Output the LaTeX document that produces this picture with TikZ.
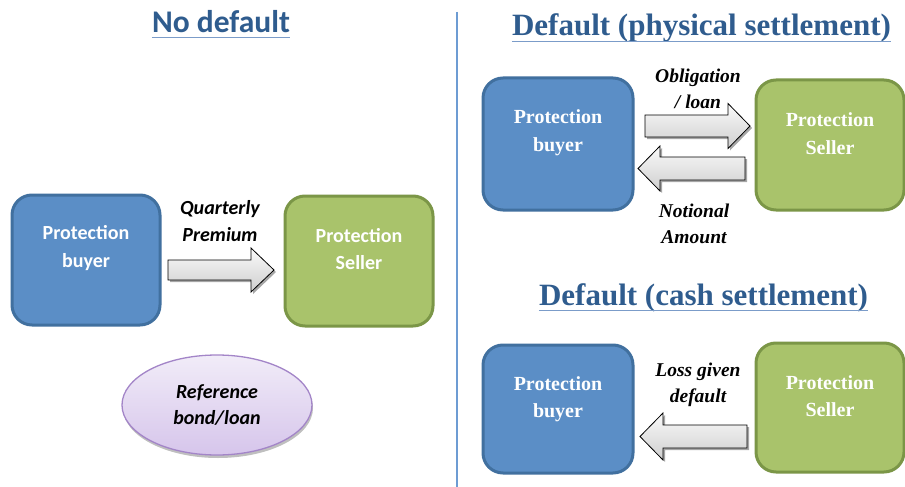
\documentclass[tikz,border=0pt]{standalone}
\usepackage{fontspec}
\newfontfamily\calib{Carlito}
\newfontfamily\timesf{Liberation Serif}
\usetikzlibrary{shadows,shapes.geometric}
\definecolor{boxblue}{HTML}{5B8EC6}
\definecolor{blueedge}{HTML}{41709F}
\definecolor{boxgreen}{HTML}{A9C36B}
\definecolor{greenedge}{HTML}{7B9647}
\definecolor{titleblue}{HTML}{2F5C8E}
\definecolor{ulineblue}{HTML}{7B9CC9}
\definecolor{divblue}{HTML}{6D9CD3}
\definecolor{elltop}{HTML}{F1ECF8}
\definecolor{ellbot}{HTML}{D6C5EB}
\definecolor{elledge}{HTML}{A385C8}
\newcommand\blockarr[6]{% tail x, tip x, y, shaft half, head half, head length (signed)
  \draw[blockarrow] (#1,{#3-(#4)}) -- ({#2-(#6)},{#3-(#4)}) -- ({#2-(#6)},{#3-(#5)}) -- (#2,#3)
    -- ({#2-(#6)},{#3+(#5)}) -- ({#2-(#6)},{#3+(#4)}) -- (#1,{#3+(#4)}) -- cycle;}
\begin{document}
\begin{tikzpicture}[x=1pt,y=-1pt,
  boxbase/.style={line width=3pt, rounded corners=20pt, minimum width=148pt, minimum height=130pt, inner sep=0pt},
  bluebox/.style={boxbase, draw=blueedge, fill=boxblue},
  greenbox/.style={boxbase, draw=greenedge, fill=boxgreen},
  txtL/.style={text=white, align=center, inner sep=0pt, font=\calib\bfseries\fontsize{20}{27.5}\selectfont},
  txtR/.style={text=white, align=center, inner sep=0pt, font=\timesf\bfseries\fontsize{20}{27.5}\selectfont},
  lblL/.style={align=center, inner sep=0pt, font=\calib\bfseries\itshape\fontsize{20}{26.5}\selectfont},
  lblR/.style={align=center, inner sep=0pt, font=\timesf\bfseries\itshape\fontsize{19.5}{26}\selectfont},
  titleL/.style={text=titleblue, inner sep=0pt, anchor=base, font=\calib\bfseries\fontsize{31.5}{36}\selectfont},
  titleR/.style={text=titleblue, inner sep=0pt, anchor=base, font=\timesf\bfseries\fontsize{31}{36}\selectfont},
  uline/.style={draw=ulineblue, line width=1.6pt},
  blockarrow/.style={draw=black, line width=0.8pt, top color=gray!4, bottom color=gray!38,
     drop shadow={shadow xshift=2pt, shadow yshift=-2pt, opacity=0.35, fill=black}},
  refell/.style={ellipse, draw=elledge, line width=1.3pt, top color=elltop, bottom color=ellbot,
     minimum width=190pt, minimum height=100pt, inner sep=0pt,
     drop shadow={shadow xshift=1pt, shadow yshift=-3pt, opacity=0.25, fill=black}}
]
\useasboundingbox (0,0) rectangle (905,487);
\fill[white] (0,0) rectangle (905,487);

% divider
\draw[divblue, line width=2pt] (457,12) -- (457,487);

% ---------- No default ----------
\node[titleL] (t1) at (221,33) {No default};
\draw[uline] ([yshift=-4.5pt]t1.base west) -- ([yshift=-4.5pt]t1.base east);

\node[bluebox, label={[txtL, yshift=12pt]center:{Protection\\buyer}}] (b1) at (86,260) {};
\node[greenbox, label={[txtL, yshift=12pt]center:{Protection\\Seller}}] (g1) at (359,261) {};
\blockarr{168}{274}{270}{10}{22}{23}
\node[lblL] (l1) at (220,221) {Quarterly\\Premium};
\node[refell] (ref) at (217,405) {};
\node[lblL] (refl) at (217,405) {Reference\\bond/loan};

% ---------- Default (physical settlement) ----------
\node[titleR] (t2) at (701.5,36) {Default (physical settlement)};
\draw[uline] ([yshift=-5.5pt]t2.base west) -- ([yshift=-5.5pt]t2.base east);

\node[bluebox, minimum width=150pt, minimum height=132pt, label={[txtR, yshift=11.5pt]center:{Protection\\buyer}}] (b2) at (558,144) {};
\node[greenbox, minimum height=130pt, label={[txtR, yshift=11.5pt]center:{Protection\\Seller}}] (g2) at (830,145) {};
\blockarr{645}{750}{126}{11}{22.5}{22}
\blockarr{745}{638}{168.5}{11.5}{22.5}{-22}
\node[lblR] (l2) at (698,89) {Obligation\\/ loan};
\node[lblR] (l3) at (694,224) {Notional\\Amount};

% ---------- Default (cash settlement) ----------
\node[titleR] (t3) at (703.5,305) {Default (cash settlement)};
\draw[uline] ([yshift=-5.5pt]t3.base west) -- ([yshift=-5.5pt]t3.base east);

\node[bluebox, minimum width=150pt, minimum height=128pt, label={[txtR, yshift=10pt]center:{Protection\\buyer}}] (b3) at (558,409) {};
\node[greenbox, minimum height=129pt, label={[txtR, yshift=11.5pt]center:{Protection\\Seller}}] (g3) at (830,407.5) {};
\blockarr{747}{640}{436.5}{11.5}{23.5}{-23}
\node[lblR] (l4) at (698,385) {Loss given\\default};
\end{tikzpicture}
\end{document}
